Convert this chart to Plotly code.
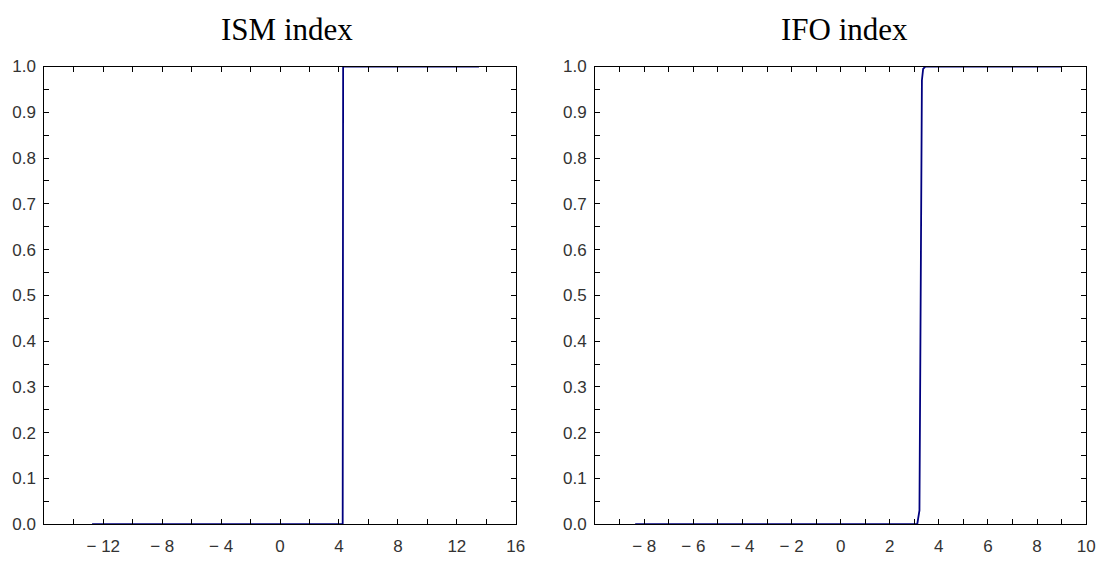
import plotly.graph_objects as go

# ISM index empirical step (x, cumulative value)
ism_x = [-12.76, 4.25, 4.26, 4.27, 4.28, 13.5]
ism_y = [0.0, 0.0, 0.33, 0.67, 1.0, 1.0]

# IFO index
ifo_x = [-8.37, 3.12, 3.21, 3.27, 3.31, 3.36, 3.45, 9.0]
ifo_y = [0.0, 0.0, 0.03, 0.5, 0.97, 0.995, 1.0, 1.0]

titles = ["ISM index", "IFO index"]

ism_xticks = list(range(-16, 17, 2))
ism_xlabels = [("− " + str(-v) if v < 0 else str(v)) if (v % 4 == 0 and v != -16) else "" for v in ism_xticks]
ifo_xticks = list(range(-10, 11, 1))
ifo_xlabels = [("− " + str(-v) if v < 0 else str(v)) if (v % 2 == 0 and v != -10) else "" for v in ifo_xticks]
yticks = [round(i * 0.05, 2) for i in range(21)]
ylabels = [f"{v:.1f}" if i % 2 == 0 else "" for i, v in enumerate(yticks)]

W, H = 1114, 569
line_color = "#00007f"
tickfont = dict(family="Liberation Sans", size=17, color="#333333")

fig = go.Figure()
fig.add_trace(go.Scatter(x=ism_x, y=ism_y, mode="lines", xaxis="x", yaxis="y",
                         line=dict(color=line_color, width=1.8), showlegend=False))
fig.add_trace(go.Scatter(x=ifo_x, y=ifo_y, mode="lines", xaxis="x2", yaxis="y2",
                         line=dict(color=line_color, width=1.8), showlegend=False))

def px_x(v):
    return v / W

def px_y(v):
    return 1 - v / H

ydom = [px_y(533), px_y(59.5)]
axcommon = dict(showline=True, linecolor="black", linewidth=1, mirror="ticks",
                ticks="inside", ticklen=5, tickcolor="black", tickwidth=1,
                showgrid=False, zeroline=False, tickfont=tickfont)

fig.update_layout(
    width=W, height=H,
    margin=dict(l=0, r=0, t=0, b=0),
    paper_bgcolor="white", plot_bgcolor="white",
    xaxis=dict(domain=[px_x(44.7), px_x(520)], range=[-16, 16], anchor="y",
               tickmode="array", tickvals=ism_xticks, ticktext=ism_xlabels,
               ticklabelstandoff=6, **axcommon),
    yaxis=dict(domain=ydom, range=[0, 1], anchor="x",
               tickmode="array", tickvals=yticks, ticktext=ylabels,
               ticklabelstandoff=4, **axcommon),
    xaxis2=dict(domain=[px_x(600), px_x(1095)], range=[-10, 10], anchor="y2",
                tickmode="array", tickvals=ifo_xticks, ticktext=ifo_xlabels,
                ticklabelstandoff=6, **axcommon),
    yaxis2=dict(domain=ydom, range=[0, 1], anchor="x2",
                tickmode="array", tickvals=yticks, ticktext=ylabels,
                ticklabelstandoff=4, **axcommon),
    annotations=[
        dict(text=titles[0], x=px_x((44.7 + 520) / 2 + 7), y=px_y(21), xref="paper", yref="paper",
             showarrow=False, font=dict(family="Liberation Serif", size=31, color="black"),
             xanchor="center", yanchor="middle"),
        dict(text=titles[1], x=px_x((600 + 1095) / 2 + 4), y=px_y(21), xref="paper", yref="paper",
             showarrow=False, font=dict(family="Liberation Serif", size=31, color="black"),
             xanchor="center", yanchor="middle"),
    ],
)

fig.write_html("out.html", config={"displayModeBar": False},
               post_script="document.body.style.margin='0px';")
